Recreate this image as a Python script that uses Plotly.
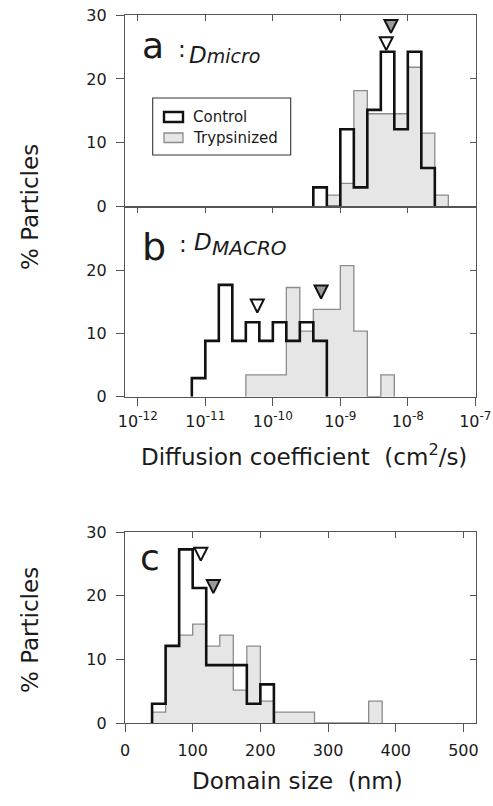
import plotly.graph_objects as go

# ---------------- data ----------------
# Panel a: D_micro, bin edges in log10(cm^2/s), % particles per bin
a_edges = [-9.4, -9.2, -9.0, -8.8, -8.6, -8.4, -8.2, -8.0, -7.8, -7.6, -7.4]
a_control = [3.03, 0.0, 12.12, 3.03, 15.15, 24.24, 12.12, 24.24, 6.06, 0.0]
a_tryp = [0.0, 1.82, 3.64, 18.18, 14.55, 14.55, 14.55, 21.82, 11.5, 1.82]

# Panel b: D_MACRO
b_edges = [-11.2, -11.0, -10.8, -10.6, -10.4, -10.2, -10.0, -9.8, -9.6, -9.4,
           -9.2, -9.0, -8.8, -8.6, -8.4, -8.2]
b_control = [2.94, 8.82, 17.65, 8.82, 11.76, 8.82, 11.76, 8.82, 11.76, 8.82,
             0, 0, 0, 0, 0]
b_tryp = [0, 0, 0, 0, 3.45, 3.45, 3.45, 17.24, 10.34, 13.79, 13.79, 20.69,
          10.34, 0, 3.45]

# Panel c: domain size (nm)
c_edges = [40, 60, 80, 100, 120, 140, 160, 180, 200, 220, 240, 260, 280, 300,
           320, 340, 360, 380]
c_control = [3.03, 12.12, 27.27, 21.21, 9.09, 9.09, 9.09, 3.03, 6.06, 0, 0, 0,
             0, 0, 0, 0, 0]
c_tryp = [1.72, 12.07, 13.79, 15.52, 12.07, 13.79, 5.17, 12.07, 3.45, 1.72,
          1.72, 1.72, 0, 0, 0, 0, 3.45]

# mean markers (x position, marker tip height)
a_mean_x = [-8.32, -8.25]      # log10, control / trypsinized
a_mean_y = [24.5, 27.2]
b_mean_x = [-10.23, -9.285]
b_mean_y = [13.3, 15.5]
c_mean_x = [112, 130.5]
c_mean_y = [25.5, 20.4]

decade_vals = [-12, -11, -10, -9, -8, -7]
decade_exp = ["-12", "-11", "-10", "-9", "-8", "-7"]
size_ticks = [0, 100, 200, 300, 400, 500]

# ---------------- layout helpers ----------------
W, H = 493, 806
ML, MR, MT, MB = 125, 17, 15, 83
PW = W - ML - MR
PH = H - MT - MB


def fx(px):
    return (px - ML) / PW


def fy(py):
    return (H - MB - py) / PH


FONT = "DejaVu Sans"
TXT = "#1a1a1a"
AXC = "#555555"
GRAY_FILL = "#e6e6e6"
GRAY_LINE = "#8c8c8c"
BLACK = "#111111"
XR_LOG = [-12.19, -6.99]
XR_LIN = [0, 518.6]


def step_xy(edges, vals, log=False):
    i0 = 0
    while vals[i0] == 0:
        i0 += 1
    i1 = len(vals) - 1
    while vals[i1] == 0:
        i1 -= 1
    e = edges[i0:i1 + 2]
    v = vals[i0:i1 + 1]
    xs = [e[0]] + e[:-1] + [e[-1]]
    ys = [0] + v + [0]
    if log:
        xs = [10 ** x for x in xs]
    return xs, ys


fig = go.Figure()


def add_panel(edges, ctrl, tryp, mx, my, xa, ya, log):
    x, y = step_xy(edges, tryp, log)
    fig.add_trace(go.Scatter(x=x, y=y, mode="lines", line_shape="hv",
                             line=dict(color=GRAY_LINE, width=1.3),
                             fill="tozeroy", fillcolor=GRAY_FILL,
                             xaxis=xa, yaxis=ya, showlegend=False,
                             hoverinfo="skip"))
    x, y = step_xy(edges, ctrl, log)
    fig.add_trace(go.Scatter(x=x, y=y, mode="lines", line_shape="hv",
                             line=dict(color=BLACK, width=2.6),
                             xaxis=xa, yaxis=ya, showlegend=False,
                             hoverinfo="skip"))
    xs = [10 ** v for v in mx] if log else mx
    fig.add_trace(go.Scatter(x=xs, y=my, mode="markers", cliponaxis=False,
                             marker=dict(symbol="arrow-down", size=13,
                                         color=["white", "#9a9a9a"],
                                         line=dict(color=BLACK, width=2)),
                             xaxis=xa, yaxis=ya, showlegend=False,
                             hoverinfo="skip"))


add_panel(a_edges, a_control, a_tryp, a_mean_x, a_mean_y, "x", "y", True)
add_panel(b_edges, b_control, b_tryp, b_mean_x, b_mean_y, "x2", "y2", True)
add_panel(c_edges, c_control, c_tryp, c_mean_x, c_mean_y, "x3", "y3", False)

# empty traces so that overlay (tick-only) axes are realised
for xa, ya in [("x4", "y2"), ("x5", "y3"), ("x", "y4"), ("x2", "y5"), ("x3", "y6")]:
    fig.add_trace(go.Scatter(x=[None], y=[None], xaxis=xa, yaxis=ya,
                             showlegend=False, hoverinfo="skip"))

dom_a = [fy(206.7), 1.0]
dom_b = [fy(396.7), fy(206.7)]
dom_c = [0.0, fy(532)]

common = dict(showgrid=False, zeroline=False, linecolor=AXC, linewidth=1.2,
              tickcolor=AXC, tickwidth=1, automargin=False,
              ticklabeloverflow="allow",
              tickfont=dict(family=FONT, size=16, color=TXT))

decade_text = ["10<sup><span style='font-size:12px'>%s</span></sup>" % e
               for e in decade_exp]
log_ax = dict(type="log", range=XR_LOG, tickvals=[10 ** v for v in decade_vals],
              ticktext=decade_text)
lin_ax = dict(range=XR_LIN, tickvals=size_ticks)

fig.update_layout(
    template="none",
    width=W, height=H,
    margin=dict(l=ML, r=MR, t=MT, b=MB, pad=0, autoexpand=False),
    paper_bgcolor="white", plot_bgcolor="white", showlegend=False,
    font=dict(family=FONT, color=TXT),
    # panel a
    xaxis=dict(**common, **log_ax, domain=[0, 1], anchor="y", side="top",
               ticks="inside", ticklen=6, showticklabels=False,
               showline=True, mirror=True),
    yaxis=dict(**common, range=[0, 30], domain=dom_a, anchor="x",
               tickvals=[0, 10, 20, 30], ticks="outside", ticklen=8,
               ticklabelstandoff=6, showline=True, mirror=True),
    # panel b
    xaxis2=dict(**common, **log_ax, domain=[0, 1], anchor="y2", side="bottom",
                ticks="outside", ticklen=8, ticklabelstandoff=2,
                showline=True, mirror=True),
    yaxis2=dict(**common, range=[0, 30], domain=dom_b, anchor="x2",
                tickvals=[0, 10, 20], ticks="outside", ticklen=8,
                ticklabelstandoff=6, showline=True, mirror=True),
    # panel c
    xaxis3=dict(**common, **lin_ax, domain=[0, 1], anchor="y3", side="bottom",
                ticks="outside", ticklen=8, ticklabelstandoff=5,
                showline=True, mirror=True),
    yaxis3=dict(**common, range=[0, 30], domain=dom_c, anchor="x3",
                tickvals=[0, 10, 20, 30], ticks="outside", ticklen=8,
                ticklabelstandoff=6, showline=True, mirror=True),
    # inward tick overlays
    xaxis4=dict(**common, **log_ax, overlaying="x2", anchor="y2", side="top",
                ticks="inside", ticklen=6, showticklabels=False, showline=False),
    xaxis5=dict(**common, **lin_ax, overlaying="x3", anchor="y3", side="top",
                ticks="inside", ticklen=6, showticklabels=False, showline=False),
    yaxis4=dict(**common, range=[0, 30], overlaying="y", anchor="x", side="right",
                tickvals=[0, 10, 20, 30], ticks="inside", ticklen=6,
                showticklabels=False, showline=False),
    yaxis5=dict(**common, range=[0, 30], overlaying="y2", anchor="x2", side="right",
                tickvals=[0, 10, 20], ticks="inside", ticklen=6,
                showticklabels=False, showline=False),
    yaxis6=dict(**common, range=[0, 30], overlaying="y3", anchor="x3", side="right",
                tickvals=[0, 10, 20, 30], ticks="inside", ticklen=6,
                showticklabels=False, showline=False),
)


def ann(text, px, py, size, xanchor="center", angle=0, italic=False):
    fig.add_annotation(text=text, x=fx(px), y=fy(py), xref="paper", yref="paper",
                       xanchor=xanchor, yanchor="middle", showarrow=False,
                       textangle=angle,
                       font=dict(family=FONT, size=size, color=TXT,
                                 style="italic" if italic else "normal"))


# axis titles
ann("% Particles", 30, 207, 23, angle=-90)
ann("% Particles", 30, 630, 23, angle=-90)
ann("Diffusion coefficient\u00a0 (cm<sup>2</sup>/s)", 303.5, 455, 23)
ann("Domain size\u00a0 (nm)", 297.5, 781, 23)

# panel labels
ann("a", 140, 45, 36, xanchor="left")
ann(":", 176, 49, 23, xanchor="left")
ann("D<span style='font-size:19px'>micro</span>", 187, 55, 23,
    xanchor="left", italic=True)

ann("b", 140, 247, 38, xanchor="left")
ann(":", 177, 244, 23, xanchor="left")
ann("D", 192, 242, 23, xanchor="left", italic=True)
ann("MACRO", 210, 248.5, 20, xanchor="left", italic=True)

ann("c", 138, 557, 36, xanchor="left")

# legend (panel a)
fig.add_shape(type="rect", xref="paper", yref="paper",
              x0=fx(152.7), x1=fx(290.7), y0=fy(155), y1=fy(98),
              line=dict(color="#333333", width=1.1), fillcolor="white", layer="above")
fig.add_shape(type="rect", xref="paper", yref="paper",
              x0=fx(164), x1=fx(183), y0=fy(122), y1=fy(112),
              line=dict(color=BLACK, width=2.4), fillcolor="white", layer="above")
fig.add_shape(type="rect", xref="paper", yref="paper",
              x0=fx(164), x1=fx(183), y0=fy(142.5), y1=fy(133),
              line=dict(color=GRAY_LINE, width=1.3), fillcolor=GRAY_FILL, layer="above")
ann("Control", 191, 117, 15, xanchor="left")
ann("Trypsinized", 191, 138, 15, xanchor="left")

# remove the browser's default 8px body margin so the figure fills the window
fig.write_html("out.html", config={"displayModeBar": False},
               post_script="document.body.style.margin='0px';")
